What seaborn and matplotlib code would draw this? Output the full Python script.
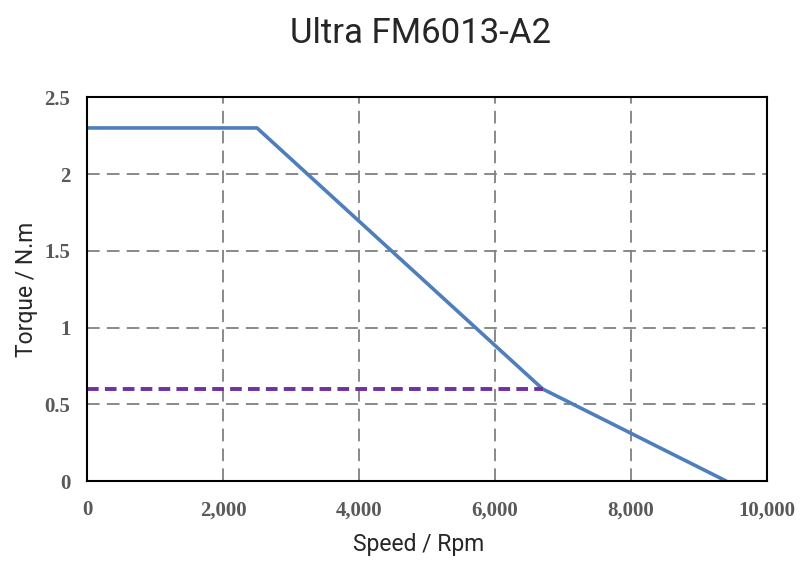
import numpy as np
import pandas as pd
import matplotlib
matplotlib.use('Agg')
import matplotlib.pyplot as plt
import seaborn as sns
from matplotlib.ticker import FuncFormatter

# Torque curve
speed = [0, 2500, 6700, 9400]
torque = [2.3, 2.3, 0.6, 0]
# Rated torque line
rated_speed = [0, 6700]
rated_torque = [0.6, 0.6]

x_ticks = [0, 2000, 4000, 6000, 8000, 10000]
y_ticks = [0, 0.5, 1, 1.5, 2, 2.5]

sns.set_style('white')

fig = plt.figure(figsize=(8, 5.72), dpi=100)
ax = fig.add_axes([0.10875, 0.159, 0.85, 0.671])

df = pd.DataFrame({'speed': speed, 'torque': torque})
df_rated = pd.DataFrame({'speed': rated_speed, 'torque': rated_torque})
sns.lineplot(data=df, x='speed', y='torque', ax=ax, color='#4f7fba', linewidth=2.6, sort=False)
sns.lineplot(data=df_rated, x='speed', y='torque', ax=ax, color='#7030a0', linewidth=2.8,
             linestyle=(0, (3, 1.6)))

ax.set_xlim(0, 10000)
ax.set_ylim(0, 2.5)
ax.set_xticks(x_ticks)
ax.set_yticks(y_ticks)
ax.xaxis.set_major_formatter(FuncFormatter(lambda v, p: f'{int(v):,}'))
ax.yaxis.set_major_formatter(FuncFormatter(lambda v, p: f'{v:g}'))

for lab in ax.get_xticklabels() + ax.get_yticklabels():
    lab.set_fontfamily('Liberation Serif')
    lab.set_fontweight('bold')
    lab.set_fontsize(15)
    lab.set_color('#595959')
ax.tick_params(axis='x', length=0, pad=14)
ax.tick_params(axis='y', length=0, pad=12)

ax.grid(True, color='#808080', linestyle=(0, (7, 4)), linewidth=1.3)
for s in ax.spines.values():
    s.set_color('black')
    s.set_linewidth(1.5)
    s.set_visible(True)

ax.set_xlabel('Speed / Rpm', fontfamily='Roboto', fontsize=16.5)
ax.xaxis.set_label_coords(0.487, -0.135)
ax.set_ylabel('Torque / N.m', fontfamily='Roboto', fontsize=16.5, labelpad=5)
fig.suptitle('Ultra FM6013-A2', fontfamily='Roboto', fontsize=25, x=0.525, y=0.97)

fig.savefig('out.png', dpi=100)
